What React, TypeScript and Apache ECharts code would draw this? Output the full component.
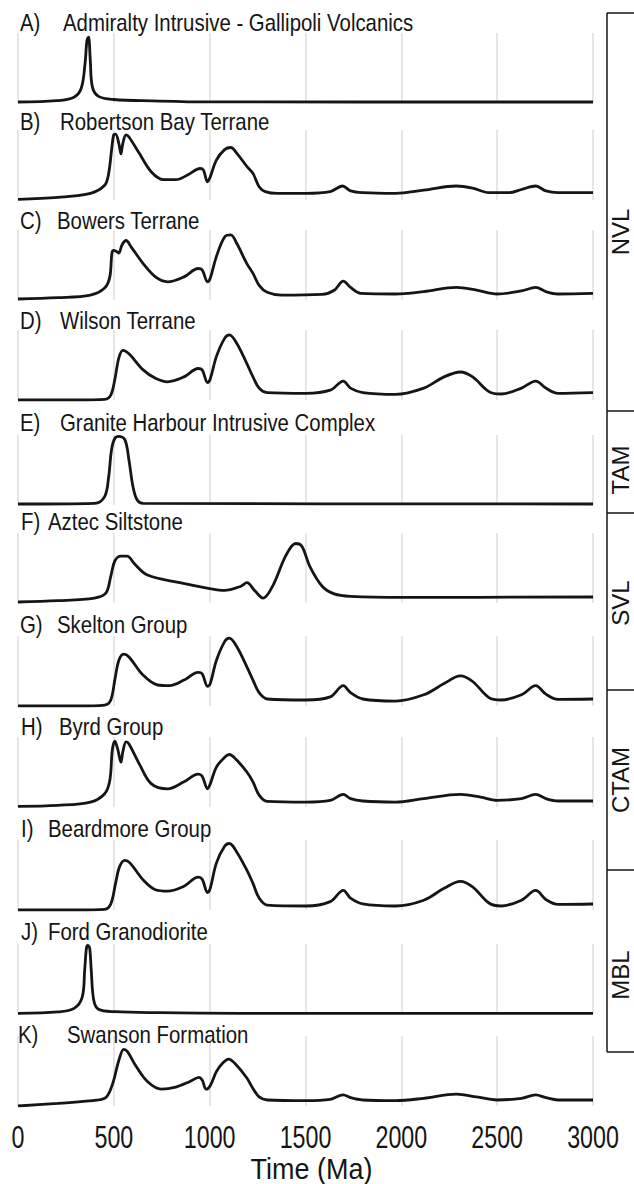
import React, { useEffect, useRef } from "react";
import * as echarts from "echarts";

// ---------- DATA ----------
const xTicks = [0, 500, 1000, 1500, 2000, 2500, 3000];
const xAxisTitle = "Time (Ma)";
const panelLetters = ["A)", "B)", "C)", "D)", "E)", "F)", "G)", "H)", "I)", "J)", "K)"];
const panelNames = [
  "Admiralty Intrusive - Gallipoli Volcanics",
  "Robertson Bay Terrane",
  "Bowers Terrane",
  "Wilson Terrane",
  "Granite Harbour Intrusive Complex",
  "Aztec Siltstone",
  "Skelton Group",
  "Byrd Group",
  "Beardmore Group",
  "Ford Granodiorite",
  "Swanson Formation",
];
const regionNames = ["NVL", "TAM", "SVL", "CTAM", "MBL"];

// relative probability density (0-100) vs age (Ma)
const admiralty: [number, number][] = [[0,1.4],[200,3.3],[290,8],[330,21],[350,57],[360,90],[368,94],[377,62],[388,23],[420,9.5],[500,5],[700,3],[1000,1.5],[3000,1.4]];
const robertsonBay: [number, number][] = [[0,1],[208,3.8],[378,9.5],[452,21],[473,38],[488,71],[499,93],[509,94],[526,81],[537,66],[547,81],[564,93],[579,90],[632,67],[696,40],[760,29],[823,29],[887,36],[950,45],[967,43],[989,26],[1003,33],[1035,57],[1078,72],[1110,75],[1141,67],[1194,48],[1226,38],[1258,19],[1290,12],[1354,9.5],[1502,9.5],[1629,12],[1693,20],[1735,13],[1799,10.5],[1969,9.5],[2117,14],[2287,20],[2372,17],[2457,10.5],[2563,10.5],[2627,15],[2701,20],[2754,13],[2817,10.5],[3000,10.5]];
const bowers: [number, number][] = [[0,1.4],[208,3.3],[378,7],[452,17],[479,33],[490,67],[499,71],[516,69],[526,67],[543,79],[564,85],[590,76],[653,52],[717,33],[781,26],[866,33],[940,45],[961,43],[989,26],[1003,31],[1035,62],[1078,90],[1110,93],[1141,81],[1194,52],[1226,38],[1258,21],[1300,11],[1375,7],[1587,8],[1650,14],[1697,27],[1735,18],[1788,9.5],[1969,8.6],[2117,12],[2287,18],[2393,14],[2499,8.6],[2627,13],[2701,18],[2754,12],[2817,8.6],[3000,9.5]];
const wilson: [number, number][] = [[0,0],[314,0],[452,1],[484,7],[505,29],[526,60],[547,71],[579,66],[653,43],[717,31],[781,26],[866,33],[940,45],[961,43],[989,25],[1003,30],[1035,62],[1078,88],[1103,93],[1141,81],[1194,52],[1226,33],[1258,17],[1300,10.5],[1502,9.5],[1629,14],[1697,27],[1735,17],[1799,10.5],[1969,8],[2117,17],[2223,33],[2308,40],[2372,33],[2457,12],[2520,8.6],[2627,17],[2701,27],[2754,17],[2817,9.5],[3000,10.5]];
const graniteHarbour: [number, number][] = [[0,1.4],[399,2.4],[452,12],[473,40],[488,79],[505,95],[526,98],[558,93],[579,64],[600,26],[622,7],[653,2.4],[3000,1.4]];
const aztec: [number, number][] = [[0,1.4],[208,3.3],[399,7],[458,14],[484,38],[505,60],[537,67],[569,67],[611,55],[675,40],[844,29],[993,21],[1078,18],[1163,24],[1194,29],[1237,17],[1279,7],[1332,26],[1396,67],[1449,85],[1481,81],[1523,52],[1587,24],[1650,13],[1735,9.5],[2011,8],[3000,8.6]];
const skelton: [number, number][] = [[0,0],[314,0],[452,1.4],[484,8.6],[505,37],[526,65],[552,74],[579,70],[653,44],[728,30],[791,29],[866,37],[940,48],[961,46],[989,28],[1003,32],[1035,65],[1078,92],[1103,97],[1141,85],[1194,56],[1226,37],[1258,19],[1300,10],[1502,8.6],[1629,13],[1697,29],[1735,19],[1799,10],[1969,7],[2117,16],[2223,32],[2308,43],[2372,35],[2457,12],[2520,8.6],[2627,16],[2701,29],[2754,17],[2817,9.5],[3000,10]];
const byrd: [number, number][] = [[0,1],[208,2.4],[378,7],[452,19],[479,38],[492,81],[505,94],[520,83],[537,64],[547,79],[564,93],[579,90],[632,62],[696,33],[781,26],[866,36],[940,47],[961,44],[989,26],[1003,33],[1035,57],[1078,71],[1103,75],[1141,67],[1194,50],[1226,36],[1258,17],[1300,8],[1502,7],[1629,9.5],[1697,18],[1735,12],[1799,8.6],[1969,7],[2117,12],[2308,18],[2414,14],[2499,9.5],[2627,12],[2701,18],[2754,12],[2817,8.6],[3000,8.6]];
const beardmore: [number, number][] = [[0,0],[314,0],[452,1],[484,8.6],[509,38],[530,62],[558,71],[585,67],[653,43],[717,29],[781,27],[866,34],[940,47],[961,44],[989,25],[1003,31],[1035,67],[1078,91],[1103,95],[1141,83],[1194,57],[1226,38],[1258,17],[1300,7],[1502,5.7],[1629,12],[1697,28],[1735,17],[1799,8.6],[1969,5.7],[2117,14],[2223,31],[2308,41],[2372,33],[2457,10],[2520,5.7],[2627,14],[2701,28],[2754,15],[2817,8],[3000,8.6]];
const ford: [number, number][] = [[0,1],[208,2.9],[293,8],[335,24],[348,63],[357,94],[365,98],[374,94],[382,63],[395,20],[420,6.7],[505,3.3],[738,1.9],[1163,1],[3000,1]];
const swanson: [number, number][] = [[0,0],[208,3.8],[420,8.6],[462,13],[494,32],[526,65],[552,81],[573,77],[611,59],[675,35],[749,24],[823,27],[897,35],[944,41],[961,37],[982,24],[1003,29],[1035,49],[1067,61],[1099,67],[1131,61],[1194,40],[1226,25],[1258,13],[1300,8.6],[1502,7.6],[1629,9.5],[1697,16],[1735,12],[1799,8.6],[1969,7.6],[2117,11],[2287,17],[2393,13],[2499,8.6],[2627,11],[2701,16],[2754,12],[2817,8.6],[3000,8.6]];

const seriesData = [admiralty, robertsonBay, bowers, wilson, graniteHarbour, aztec, skelton, byrd, beardmore, ford, swanson];

// ---------- LAYOUT ----------
const GRID_LEFT = 18;
const GRID_WIDTH = 575;
const GRID_H = 70;
const gridBottoms = [103, 200, 300, 400, 505, 603, 706, 807, 910, 1014, 1106];
const titleYs = [23, 122, 221, 321, 423, 522, 625, 727, 829, 932, 1035];
const letterXs = [20, 20, 20, 20, 20, 21, 20, 21, 21, 21, 18];
const nameXs = [63, 60, 57, 60, 60, 48, 57, 59, 48, 48, 67];
const boxX = 607;
const boxLines = [13, 411, 513, 690, 870, 1052];
const labelCenters = [232, 470, 603, 780, 975];
const SANS = "'Liberation Sans', Arial, sans-serif";
const INK = "#151515";

export default function App() {
  const ref = useRef<HTMLDivElement>(null);
  useEffect(() => {
    if (!ref.current) return;
    const chart = echarts.init(ref.current, null, { renderer: "svg" });
    const n = seriesData.length;

    chart.setOption({
      animation: false,
      backgroundColor: "#fff",
      grid: seriesData.map((_, i) => ({ left: GRID_LEFT, width: GRID_WIDTH, top: gridBottoms[i] - GRID_H, height: GRID_H })),
      xAxis: seriesData.map((_, i) => ({
        type: "value", gridIndex: i, min: xTicks[0], max: xTicks[xTicks.length - 1], interval: 500,
        axisLine: { show: false }, axisTick: { show: false }, axisLabel: { show: false },
        splitLine: { show: true, lineStyle: { color: "#e3dcdc", width: 1.5 } },
      })),
      yAxis: seriesData.map((_, i) => ({ type: "value", gridIndex: i, min: 0, max: 100, show: false })),
      series: seriesData.map((d, i) => ({
        type: "line", xAxisIndex: i, yAxisIndex: i, data: d, showSymbol: false, smooth: 0.35,
        lineStyle: { color: INK, width: 2.8 }, silent: true,
      })),
    });

    const graphics: any[] = [];
    for (let i = 0; i < n; i++) {
      graphics.push({
        type: "text", x: letterXs[i], y: titleYs[i], scaleX: 0.85,
        style: { text: panelLetters[i], font: `24px ${SANS}`, fill: INK, textVerticalAlign: "middle" },
      });
      graphics.push({
        type: "text", x: nameXs[i], y: titleYs[i], scaleX: 0.85,
        style: { text: panelNames[i], font: `24px ${SANS}`, fill: INK, textVerticalAlign: "middle" },
      });
    }
    // tick labels positioned by the bottom axis scale
    const axisY = gridBottoms[n - 1] + 31;
    xTicks.forEach((v) => {
      const px = chart.convertToPixel({ xAxisIndex: n - 1 }, v) as number;
      graphics.push({
        type: "text", x: px, y: axisY, scaleX: 0.75,
        style: { text: String(v), font: `31px ${SANS}`, fill: INK, textAlign: "center", textVerticalAlign: "middle" },
      });
    });
    const midX = chart.convertToPixel({ xAxisIndex: n - 1 }, (xTicks[0] + xTicks[xTicks.length - 1]) / 2) as number;
    graphics.push({
      type: "text", x: midX + 6, y: 1169, scaleX: 0.93,
      style: { text: xAxisTitle, font: `29px ${SANS}`, fill: INK, textAlign: "center", textVerticalAlign: "middle" },
    });
    // bracket box
    graphics.push({
      type: "line", shape: { x1: boxX, y1: boxLines[0], x2: boxX, y2: boxLines[boxLines.length - 1] },
      style: { stroke: INK, lineWidth: 1.5 },
    });
    boxLines.forEach((y) => {
      graphics.push({ type: "line", shape: { x1: boxX, y1: y, x2: 640, y2: y }, style: { stroke: INK, lineWidth: 1.5 } });
    });
    regionNames.forEach((t, k) => {
      graphics.push({
        type: "text", x: 620, y: labelCenters[k], rotation: Math.PI / 2,
        style: { text: t, font: `24px ${SANS}`, lineHeight: 20, fill: INK, textAlign: "center", textVerticalAlign: "middle" },
      });
    });
    chart.setOption({ graphic: graphics });
    return () => chart.dispose();
  }, []);
  return <div ref={ref} style={{ position: "fixed", left: 0, top: 0, width: 634, height: 1184, background: "#fff" }} />;
}
